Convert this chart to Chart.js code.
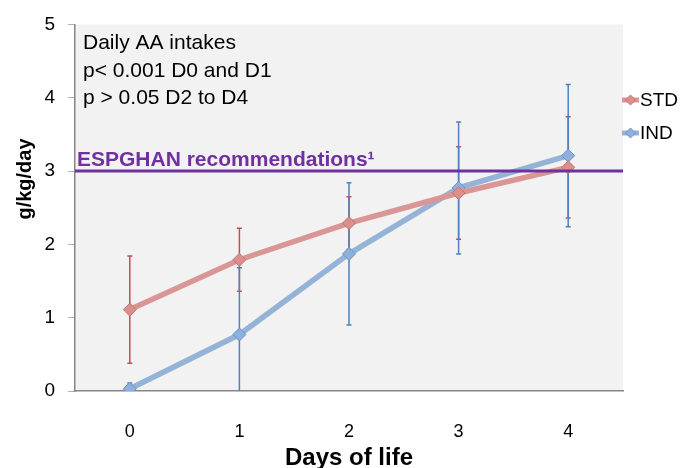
<!DOCTYPE html>
<html><head><meta charset="utf-8">
<script src="https://cdn.jsdelivr.net/npm/chart.js@4"></script>
<style>html,body{margin:0;padding:0;background:#fff}#wrap{width:682px;height:468px}</style>
</head><body><div id="wrap"><canvas id="c" width="682" height="468"></canvas></div>
<script>
const categories = ['0', '1', '2', '3', '4'];
const stdValues = [1.11, 1.79, 2.29, 2.70, 3.05];
const stdErrors = [0.73, 0.43, 0.36, 0.63, 0.69];
const indValues = [0.03, 0.77, 1.87, 2.77, 3.21];
const indErrors = [0.08, 0.91, 0.97, 0.90, 0.97];
const yTicks = [0, 1, 2, 3, 4, 5];
const recommendation = 3;
const noteLines = ['Daily AA intakes', 'p< 0.001 D0 and D1', 'p > 0.05 D2 to D4'];
const recLabel = 'ESPGHAN recommendations\u00B9';
const yTitle = 'g/kg/day';
const xTitle = 'Days of life';

const FONT = "'Liberation Sans', Arial, sans-serif";

const errorSets = [stdErrors, indErrors];
const errorColors = ['#C0504D', '#4F81BD'];

const bgPlugin = {
  id: 'bg',
  beforeDraw(chart) {
    const {ctx, chartArea: a} = chart;
    ctx.save();
    ctx.fillStyle = '#F2F2F2';
    ctx.fillRect(a.left, a.top, a.right - a.left, a.bottom - a.top);
    ctx.restore();
  }
};

const errPlugin = {
  id: 'errbars',
  beforeDatasetsDraw(chart) {
    const {ctx, chartArea: a} = chart;
    const ys = chart.scales.y;
    ctx.save();
    ctx.beginPath();
    ctx.rect(a.left, a.top, a.right - a.left, a.bottom - a.top);
    ctx.clip();
    chart.data.datasets.forEach((ds, i) => {
      const meta = chart.getDatasetMeta(i);
      const errs = errorSets[i];
      ctx.strokeStyle = errorColors[i];
      ctx.lineWidth = 1.5;
      meta.data.forEach((pt, j) => {
        const v = ds.data[j], e = errs[j];
        const yt = ys.getPixelForValue(v + e);
        const yb = ys.getPixelForValue(v - e);
        const x = pt.x;
        ctx.beginPath();
        ctx.moveTo(x, yt); ctx.lineTo(x, yb);
        ctx.moveTo(x - 2.5, yt); ctx.lineTo(x + 2.5, yt);
        ctx.moveTo(x - 2.5, yb); ctx.lineTo(x + 2.5, yb);
        ctx.stroke();
      });
    });
    ctx.restore();
  }
};

const annPlugin = {
  id: 'ann',
  afterDatasetsDraw(chart) {
    const {ctx, chartArea: a} = chart;
    const ys = chart.scales.y;
    const yr = ys.getPixelForValue(recommendation);
    ctx.save();
    ctx.strokeStyle = '#7030A0';
    ctx.lineWidth = 3;
    ctx.beginPath();
    ctx.moveTo(a.left, yr); ctx.lineTo(a.right, yr);
    ctx.stroke();
    ctx.fillStyle = '#7030A0';
    ctx.font = 'bold 21px ' + FONT;
    ctx.textAlign = 'left';
    ctx.textBaseline = 'alphabetic';
    ctx.fillText(recLabel, a.left + 2, yr - 5);
    ctx.fillStyle = '#000';
    ctx.font = '21px ' + FONT;
    noteLines.forEach((t, i) => ctx.fillText(t, a.left + 8, a.top + 25 + i * 27.5));
    ctx.restore();
  },
  afterDraw(chart) {
    const {ctx, chartArea: a} = chart;
    ctx.save();
    ctx.fillStyle = '#000';
    ctx.font = 'bold 20px ' + FONT;
    ctx.translate(25, 179);
    ctx.rotate(-Math.PI / 2);
    ctx.textAlign = 'center';
    ctx.textBaseline = 'middle';
    ctx.fillText(yTitle, 0, 0);
    ctx.restore();
    ctx.save();
    const items = [{y: 100}, {y: 133}];
    chart.data.datasets.forEach((ds, i) => {
      const y = items[i].y;
      const x0 = a.right - 1, x1 = a.right + 16;
      ctx.strokeStyle = ds.borderColor;
      ctx.lineWidth = 5;
      ctx.beginPath(); ctx.moveTo(x0, y); ctx.lineTo(x1, y); ctx.stroke();
      const cx = (x0 + x1) / 2, r = 5;
      ctx.fillStyle = ds.pointBackgroundColor;
      ctx.strokeStyle = ds.pointBorderColor;
      ctx.lineWidth = 1;
      ctx.beginPath();
      ctx.moveTo(cx, y - r); ctx.lineTo(cx + r, y); ctx.lineTo(cx, y + r); ctx.lineTo(cx - r, y); ctx.closePath();
      ctx.fill(); ctx.stroke();
      ctx.fillStyle = '#000';
      ctx.font = '19px ' + FONT;
      ctx.textAlign = 'left';
      ctx.textBaseline = 'middle';
      ctx.fillText(ds.label, x1 + 1, y + 1);
    });
    ctx.restore();
  }
};

new Chart(document.getElementById('c'), {
  type: 'line',
  data: {
    labels: categories,
    datasets: [
      {
        label: 'STD', data: stdValues,
        borderColor: '#D99694', borderWidth: 5.5,
        pointStyle: 'rectRot', pointRadius: 6.5,
        pointBackgroundColor: '#D98F8D', pointBorderColor: '#C87270', pointBorderWidth: 1,
        tension: 0
      },
      {
        label: 'IND', data: indValues,
        borderColor: '#95B3D7', borderWidth: 5.5,
        pointStyle: 'rectRot', pointRadius: 6.5,
        pointBackgroundColor: '#8EB0DC', pointBorderColor: '#6A93C8', pointBorderWidth: 1,
        tension: 0
      }
    ]
  },
  options: {
    responsive: false,
    animation: false,
    layout: {padding: {top: 22, right: 59, left: 0, bottom: 0}},
    plugins: {legend: {display: false}, tooltip: {enabled: false}},
    scales: {
      x: {
        type: 'category', offset: true,
        grid: {display: false},
        border: {color: '#868686', width: 1.5},
        ticks: {color: '#000', font: {family: FONT, size: 18}, padding: 22},
        title: {display: true, text: xTitle, color: '#000',
          font: {family: "'Liberation Sans Narrow', 'Liberation Sans', Arial, sans-serif", size: 24, weight: 'bold', lineHeight: 0.8},
          padding: {top: 0, bottom: 0}},
        afterFit(s) { s.height = 77; }
      },
      y: {
        min: 0, max: 5,
        afterBuildTicks(s) { s.ticks = yTicks.map(v => ({value: v})); },
        grid: {display: true, drawOnChartArea: false, drawTicks: true, tickLength: 7, color: '#B0B0B0'},
        border: {color: '#868686', width: 1.5},
        ticks: {color: '#000', font: {family: FONT, size: 19}, padding: 13},
        afterFit(s) { s.width = 75; }
      }
    }
  },
  plugins: [bgPlugin, errPlugin, annPlugin]
});
</script>
</body></html>
